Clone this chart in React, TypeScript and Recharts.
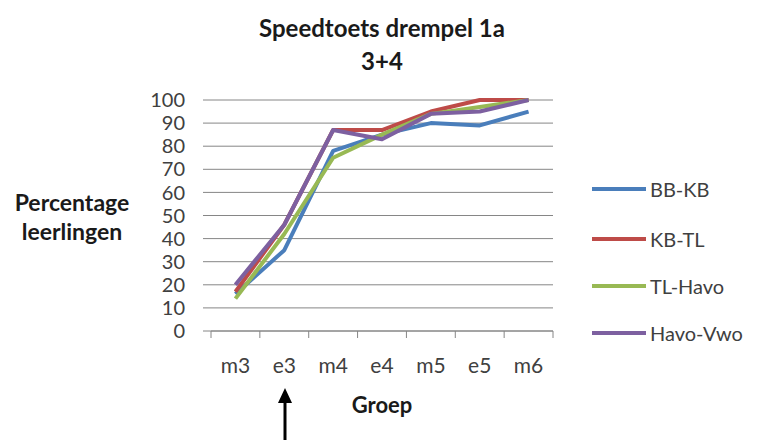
import React from 'react';
import { LineChart, Line, XAxis, YAxis, CartesianGrid } from 'recharts';

const categories = ['m3', 'e3', 'm4', 'e4', 'm5', 'e5', 'm6'];
const bbKb = [16, 35, 78, 85, 90, 89, 95];
const kbTl = [17, 46, 87, 87, 95, 100, 100];
const tlHavo = [14, 42, 75, 85, 94, 97, 100];
const havoVwo = [20, 46, 87, 83, 94, 95, 100];
const yTicks = [0, 10, 20, 30, 40, 50, 60, 70, 80, 90, 100];
const boundaryTicks = [-0.5, 0.5, 1.5, 2.5, 3.5, 4.5, 5.5, 6.5];
const centerTicks = [0, 1, 2, 3, 4, 5, 6];

const series = [
  { key: 'bbKb', name: 'BB-KB', color: '#4A7EBB', values: bbKb },
  { key: 'kbTl', name: 'KB-TL', color: '#BE4B48', values: kbTl },
  { key: 'tlHavo', name: 'TL-Havo', color: '#98B954', values: tlHavo },
  { key: 'havoVwo', name: 'Havo-Vwo', color: '#7D60A0', values: havoVwo },
];

const data = categories.map((cat, i) => {
  const row: Record<string, number | string> = { idx: i, cat };
  series.forEach((s) => {
    row[s.key] = s.values[i];
  });
  return row;
});

const FONT = 'Lato, "Open Sans", sans-serif';
const GRID = '#868686';
const TEXT = '#404040';

const CategoryTick = (props: any) => {
  const { x, y, payload } = props;
  const label = categories[payload.value] ?? '';
  return (
    <text x={x} y={y + 34} textAnchor="middle" fontFamily={FONT} fontSize={21} fill={TEXT}>
      {label}
    </text>
  );
};

export default function App() {
  const legendRows = [189, 239, 286, 333];
  return (
    <div style={{ position: 'absolute', left: 0, top: 0, width: 762, height: 440, background: '#fff' }}>
      <LineChart
        width={762}
        height={440}
        data={data}
        margin={{ top: 100, right: 209, left: 151, bottom: 61 }}
      >
        <CartesianGrid horizontal vertical={false} stroke={GRID} strokeWidth={1} />
        <XAxis
          xAxisId="a"
          type="number"
          dataKey="idx"
          domain={[-0.5, 6.5]}
          ticks={boundaryTicks}
          tickFormatter={() => ''}
          tickSize={7}
          height={8}
          stroke={GRID}
          tickLine={{ stroke: GRID }}
          axisLine={{ stroke: GRID }}
          interval={0}
        />
        <XAxis
          xAxisId="b"
          type="number"
          dataKey="idx"
          domain={[-0.5, 6.5]}
          ticks={centerTicks}
          tick={<CategoryTick />}
          tickSize={0}
          tickMargin={0}
          height={40}
          axisLine={false}
          tickLine={false}
          interval={0}
        />
        <YAxis
          type="number"
          domain={[0, 100]}
          ticks={yTicks}
          width={60}
          tickSize={8}
          tickMargin={18}
          axisLine={false}
          tickLine={{ stroke: GRID }}
          interval={0}
          tick={{ fontFamily: FONT, fontSize: 20, fill: TEXT }}
        />
        {series.map((s) => (
          <Line
            key={s.key}
            xAxisId="a"
            type="linear"
            dataKey={s.key}
            name={s.name}
            stroke={s.color}
            strokeWidth={4}
            strokeLinejoin="round"
            dot={false}
            activeDot={false}
            isAnimationActive={false}
          />
        ))}
      </LineChart>
      <svg
        width={762}
        height={440}
        style={{ position: 'absolute', left: 0, top: 0, pointerEvents: 'none' }}
      >
        <text x={382} y={37} textAnchor="middle" fontFamily={FONT} fontWeight="bold" fontSize={24} fill="#1a1a1a">
          Speedtoets drempel 1a
        </text>
        <text x={382} y={70} textAnchor="middle" fontFamily={FONT} fontWeight="bold" fontSize={24} fill="#1a1a1a">
          3+4
        </text>
        <text x={72} y={211} textAnchor="middle" fontFamily={FONT} fontWeight="bold" fontSize={23} fill="#1a1a1a">
          Percentage
        </text>
        <text x={72} y={240} textAnchor="middle" fontFamily={FONT} fontWeight="bold" fontSize={23} fill="#1a1a1a">
          leerlingen
        </text>
        <text x={382} y={413} textAnchor="middle" fontFamily={FONT} fontWeight="bold" fontSize={22} fill="#1a1a1a">
          Groep
        </text>
        {series.map((s, i) => (
          <g key={s.key}>
            <line x1={592} x2={646} y1={legendRows[i]} y2={legendRows[i]} stroke={s.color} strokeWidth={4} />
            <text
              x={650}
              y={legendRows[i]}
              dominantBaseline="central"
              fontFamily={FONT}
              fontSize={20}
              fill={TEXT}
            >
              {s.name}
            </text>
          </g>
        ))}
        <line x1={285} x2={285} y1={440} y2={400} stroke="#000" strokeWidth={3} />
        <polygon points="285,388 278,403 292,403" fill="#000" />
      </svg>
    </div>
  );
}
